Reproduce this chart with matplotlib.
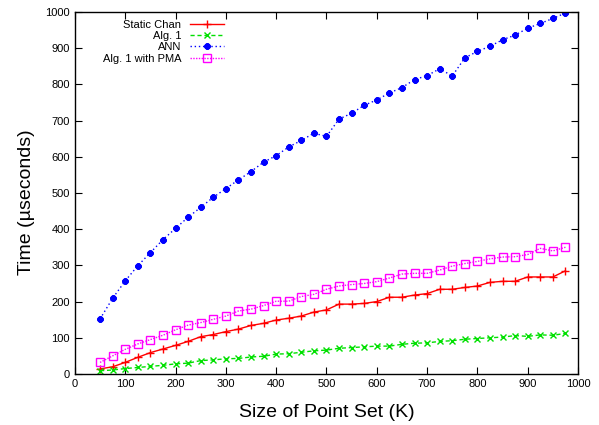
import numpy as np
import matplotlib
matplotlib.use('Agg')
from matplotlib import pyplot as plt

plt.rcParams['font.family'] = ['Liberation Sans', 'DejaVu Sans']

# point set sizes (K)
sizes = np.arange(50, 1000, 25)

static_chan = [14, 20, 32, 46, 59, 69, 79, 90, 103, 109, 117, 124, 134, 140, 149,
               154, 160, 171, 177, 193, 193, 195, 200, 212, 212, 218, 222, 234, 234,
               239, 243, 253, 256, 256, 268, 268, 268, 285]
alg1 = [9, 11, 15, 18, 21, 24, 28, 30, 37, 39, 42, 43, 47, 49, 55, 56, 60, 64, 66,
        71, 73, 75, 77, 77, 82, 85, 86, 90, 92, 96, 98, 100, 102, 106, 104, 108,
        107, 112]
ann = [152, 209, 257, 299, 335, 371, 402, 433, 460, 488, 512, 536, 559, 585, 603,
       627, 645, 665, 656, 704, 720, 742, 757, 776, 791, 813, 824, 843, 823, 873,
       891, 905, 923, 936, 955, 968, 982, 997]
alg1_pma = [32, 50, 68, 83, 95, 107, 122, 135, 142, 151, 160, 174, 179, 189, 201,
            201, 214, 220, 234, 243, 247, 250, 255, 265, 276, 278, 278, 287, 298,
            305, 311, 318, 323, 324, 330, 347, 340, 350]

fig = plt.figure(figsize=(5.99, 4.25), dpi=100)
ax = fig.add_axes([0.125, 0.12, 0.84, 0.852])

ax.plot(sizes, static_chan, color='#ff0000', lw=1, ls='-', marker='+', ms=6, mew=1,
        label='Static Chan')
ax.plot(sizes, alg1, color='#00e000', lw=1, ls=(0, (3, 2)), marker='x', ms=4.5, mew=1,
        label='Alg. 1')
ax.plot(sizes, ann, color='#0000ff', lw=1, ls=(0, (1, 2)), marker=(8, 2, 0), ms=4.5,
        mew=1.5, label='ANN')
ax.plot(sizes, alg1_pma, color='#ff00ff', lw=1, ls=(0, (1, 1)), marker='s', ms=5.5,
        mew=1, mfc='none', label='Alg. 1 with PMA')

ax.set_xlim(0, 1000)
ax.set_ylim(0, 1000)
ax.set_xticks(np.arange(0, 1001, 100))
ax.set_yticks(np.arange(0, 1001, 100))
ax.tick_params(direction='in', top=True, right=True, labelsize=8, length=5, width=0.8)
for s in ax.spines.values():
    s.set_linewidth(1)
ax.set_xlabel('Size of Point Set (K)', fontsize=14)
ax.set_ylabel('Time (\u00b5seconds)', fontsize=14)
ax.xaxis.set_label_coords(0.5, -0.082)
ax.yaxis.set_label_coords(-0.08, 0.475)

# markerfirst=False puts the samples on the right and right-aligns the labels
ax.legend(loc='upper left', bbox_to_anchor=(0.04, 1.0), frameon=False,
          markerfirst=False, fontsize=8, handlelength=3.0, labelspacing=0.12,
          handletextpad=0.8, borderaxespad=0.3)

fig.savefig('out.png', dpi=100)
